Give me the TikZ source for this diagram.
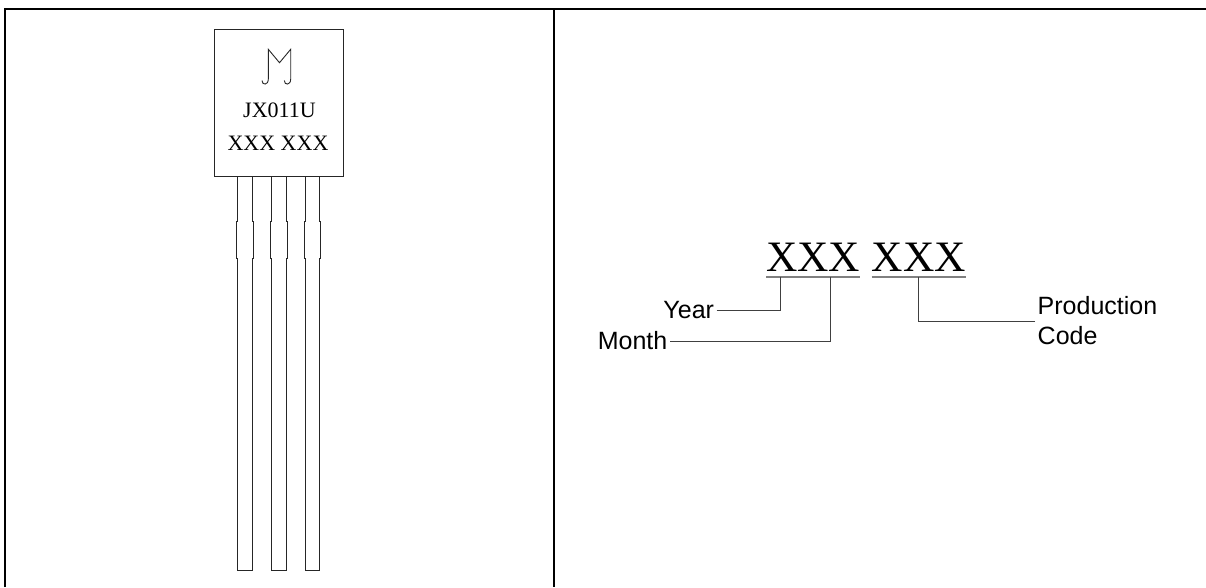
\documentclass[tikz,border=0pt]{standalone}
\usepackage{fontspec}
\setmainfont{Liberation Serif}
\newfontfamily\labelfont{Liberation Sans}
\usepackage{tikz}
\usetikzlibrary{calc}
\tikzset{
	frameline/.style={line width=2.5pt, color=black},
	outline/.style={line width=1pt, color=black!85},
	leaderline/.style={line width=1pt, color=black!75},
	underbar/.style={line width=1.5pt, color=black!50},
	pkgtext/.style={inner sep=0pt, font=\fontsize{22}{26}\selectfont},
	marktext/.style={inner xsep=0pt, inner ysep=6pt, font=\fontsize{43.4}{50}\selectfont},
	tagtext/.style={inner ysep=0pt, inner xsep=2.5pt, align=left, font=\labelfont\fontsize{25}{30}\selectfont}
}
\begin{document}
\begin{tikzpicture}[x=1pt, y=-1pt]
			%%%%% START %%%%%
			\useasboundingbox (0, 0) rectangle (1206, 587);
			
			\draw[frameline] (5, 587) -- (5, 9) -- (1206, 9);
			\draw[frameline] (554, 9) -- (554, 587);
			
			% package body
			\draw[outline] (214, 29) rectangle (343, 176);
			\draw[outline, line width=0.9pt] (262, 80.5) .. controls (262, 85.5) and (268.3, 85.5) .. (268.3, 79)
				-- (268.3, 49.3) -- (279.5, 62.7) -- (290.7, 49.3) -- (290.7, 79)
				.. controls (290.7, 85.5) and (284.3, 85.5) .. (284.3, 80.5);
			\node[pkgtext, anchor=base] (part) at (279.5, 117) {JX011U};
			\node[pkgtext, anchor=base] (lot) at (278, 150) {XXX XXX};
			
			% leads
			\foreach \cx in {245, 278.7, 312.3}
				\draw[outline] (\cx-7.3, 176) -- (\cx-7.3, 221.7) -- (\cx-8.3, 221.7) -- (\cx-8.3, 258.3)
					-- (\cx-7.3, 258.3) -- (\cx-7.3, 570.7) -- (\cx+7.3, 570.7) -- (\cx+7.3, 258.3)
					-- (\cx+8.3, 258.3) -- (\cx+8.3, 221.7) -- (\cx+7.3, 221.7) -- (\cx+7.3, 176);
			
			% marking code
			\node[marktext, anchor=base west] (grpA) at (766, 271) {XXX};
			\node[marktext, anchor=base west] (grpB) at (871.7, 271) {XXX};
			\draw[underbar] (grpA.south west) -- (grpA.south east);
			\draw[underbar] (grpB.south west) -- (grpB.south east);
			
			\node[tagtext, anchor=east] (yr) at (716.7, 310) {Year};
			\node[tagtext, anchor=east] (mon) at (670, 341) {Month};
			\node[tagtext, anchor=west] (prod) at (1035, 321) {Production\\Code};
			
			\draw[leaderline] (yr.east) -| ($(grpA.south west)!0.15!(grpA.south east)$);
			\draw[leaderline] (mon.east) -| ($(grpA.south west)!0.68!(grpA.south east)$);
			\draw[leaderline] (prod.west) -| (grpB.south);
			%%%%% END %%%%%
\end{tikzpicture}
\end{document}
